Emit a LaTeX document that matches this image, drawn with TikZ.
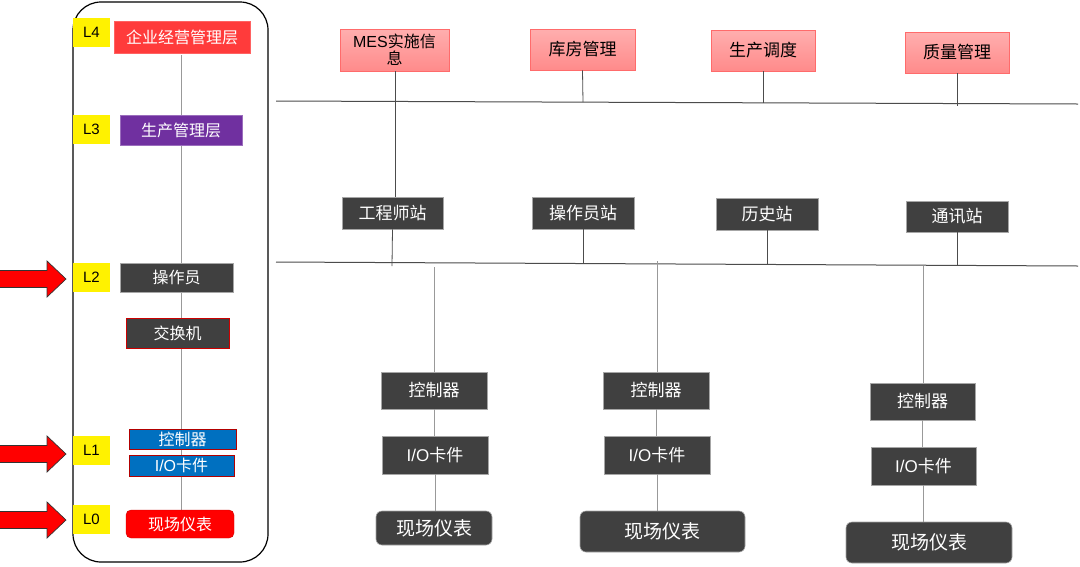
\documentclass[tikz,border=0pt]{standalone}
\usepackage{fontspec}
\setmainfont{Noto Sans CJK SC}
\newfontfamily\lat{Liberation Sans}
\definecolor{darkbox}{HTML}{404040}
\definecolor{pinkfill}{HTML}{FF9A9A}
\definecolor{pinkedge}{HTML}{FF6B6B}
\definecolor{bluebox}{HTML}{0070C0}
\definecolor{purplebox}{HTML}{7030A0}
\definecolor{redbox}{HTML}{FF3B3B}
\tikzset{
  base/.style={inner sep=0pt, font=\fontsize{16}{18}\selectfont},
  dark/.style={base, fill=darkbox, draw=gray!70, text=white, line width=0.6pt},
  bigtxt/.style={font=\fontsize{17}{19}\selectfont},
  darkround/.style={dark, rounded corners=6pt, font=\fontsize{19}{21}\selectfont},
  pinkbox/.style={base, bigtxt, top color=pinkfill!80!white, bottom color=pinkfill!90!red, draw=pinkedge, line width=0.8pt, text=black},
  lvl/.style={base, fill=yellow, text=black, minimum width=37, minimum height=29, font=\lat\fontsize{15}{17}\selectfont},
  bus/.style={line width=1pt, draw=black!70},
  conn/.style={line width=0.8pt, draw=black!70},
  lconn/.style={line width=0.8pt, draw=black!40},
  redarrow/.style={fill=red, draw=black!80, line width=0.7pt, line join=miter},
}
\begin{document}
\begin{tikzpicture}[x=1pt,y=-1pt]
\useasboundingbox (0,0) rectangle (1080,566);
\fill[white] (0,0) rectangle (1080,566);

% left frame
\node[draw=black, line width=1.2pt, rounded corners=28pt, minimum width=195, minimum height=560, inner sep=0pt] (frame) at (170.5,282) {};

% left vertical line
\coordinate (lt) at (181,55);
\coordinate (lb) at (181,511);
\draw[lconn] (lt) -- (lb);

% level labels
\node[lvl] (L4) at (91.5,32.5) {L4};
\node[lvl] (L3) at (91.5,129.5) {L3};
\node[lvl] (L2) at (91.5,277.5) {L2};
\node[lvl] (L1) at (91.5,450.5) {L1};
\node[lvl] (L0) at (91.5,519.5) {L0};

% left boxes
\node[base, fill=redbox, draw=redbox!80!white, text=white, minimum width=136, minimum height=32] (ent) at (182,37) {企业经营管理层};
\node[base, fill=purplebox, draw=purplebox!70!white, text=white, minimum width=122, minimum height=30] (prod) at (181,130) {生产管理层};
\node[dark, minimum width=113, minimum height=29] (opr) at (176.5,277.5) {操作员};
\node[dark, draw=red!80!black, minimum width=103, minimum height=30] (sw) at (177.5,333) {交换机};
\node[base, fill=bluebox, draw=red!70!black, text=white, minimum width=107, minimum height=20] (lctl) at (182.5,439) {控制器};
\node[base, fill=bluebox, draw=red!70!black, text=white, minimum width=105, minimum height=21] (lio) at (181.5,465.5) {{\lat I/O}卡件};
\node[base, fill=red, draw=red!80!black, text=white, rounded corners=5pt, minimum width=108, minimum height=28] (lfld) at (180,524) {现场仪表};

% red arrows pointing at levels
\foreach \yy/\nm in {279/a2, 454/a1, 520/a0}{
  \draw[redarrow] (0,\yy-8.5) -- (47,\yy-8.5) -- (47,\yy-18) -- (66,\yy) -- (47,\yy+18) -- (47,\yy+8.5) -- (0,\yy+8.5);
  \coordinate (\nm) at (66,\yy);
}

% top buses
\coordinate (b1L) at (276,101);
\coordinate (b1R) at (1078,104);
\draw[bus] (b1L) -- (b1R);
\coordinate (b2L) at (276,262);
\coordinate (b2R) at (1078,266);
\draw[bus] (b2L) -- (b2R);

% junctions bus1
\coordinate (j11) at (395,101.5);
\coordinate (j12) at (583,102);
\coordinate (j13) at (763,103);
\coordinate (j14) at (957,106);
% junctions bus2
\coordinate (j21) at (392,266);
\coordinate (j22) at (583,263);
\coordinate (j23) at (767,264);
\coordinate (j24) at (957,265);
\coordinate (k1) at (434,267);
\coordinate (k2) at (657,261);
\coordinate (k3) at (923,266);

% pink boxes
\node[pinkbox, minimum width=109, minimum height=42, align=center, font=\fontsize{16}{17}\selectfont] (mes) at (394.5,50) {{\lat MES}实施信\\息};
\node[pinkbox, minimum width=105, minimum height=41] (ware) at (582.5,49.5) {库房管理};
\node[pinkbox, minimum width=104, minimum height=41] (sched) at (763,50.5) {生产调度};
\node[pinkbox, minimum width=104, minimum height=41] (qual) at (957,52.5) {质量管理};

% stations
\node[dark, bigtxt, minimum width=101, minimum height=32] (eng) at (392.5,213) {工程师站};
\node[dark, bigtxt, minimum width=102, minimum height=32] (ops) at (583,213) {操作员站};
\node[dark, bigtxt, minimum width=102, minimum height=32] (hist) at (767,214) {历史站};
\node[dark, bigtxt, minimum width=102, minimum height=31] (comm) at (957,216.5) {通讯站};

% connectors top
\draw[conn] (mes.south -| j11) -- (eng.north -| j11);
\draw[conn] (ware.south) -- (j12);
\draw[conn] (sched.south) -- (j13);
\draw[conn] (qual.south) -- (j14);
\draw[conn] (eng.south) -- (j21);
\draw[conn] (ops.south) -- (j22);
\draw[conn] (hist.south) -- (j23);
\draw[conn] (comm.south) -- (j24);

% control columns
\node[dark, bigtxt, minimum width=106, minimum height=37] (c1) at (434,390.5) {控制器};
\node[dark, bigtxt, minimum width=106, minimum height=38] (io1) at (435,455) {{\lat I/O}卡件};
\node[darkround, minimum width=116, minimum height=34] (f1) at (434,528) {现场仪表};

\node[dark, bigtxt, minimum width=106, minimum height=37] (c2) at (656,390.5) {控制器};
\node[dark, bigtxt, minimum width=106, minimum height=38] (io2) at (657,455) {{\lat I/O}卡件};
\node[darkround, minimum width=165, minimum height=41] (f2) at (662.5,531.5) {现场仪表};

\node[dark, bigtxt, minimum width=105, minimum height=37] (c3) at (922.5,401.5) {控制器};
\node[dark, bigtxt, minimum width=105, minimum height=38] (io3) at (923.5,466) {{\lat I/O}卡件};
\node[darkround, minimum width=166, minimum height=41] (f3) at (929,542.5) {现场仪表};

\draw[lconn] (k1) -- (c1.north -| k1);
\draw[lconn] (c1.south) -- (io1.north -| c1.south);
\draw[lconn] (io1.south) -- (f1.north -| io1.south);
\draw[lconn] (k2) -- (c2.north -| k2);
\draw[lconn] (c2.south) -- (io2.north -| c2.south);
\draw[lconn] (io2.south) -- (f2.north -| io2.south);
\draw[lconn] (k3) -- (c3.north -| k3);
\draw[lconn] (c3.south) -- (io3.north -| c3.south);
\draw[lconn] (io3.south) -- (f3.north -| io3.south);
\end{tikzpicture}
\end{document}
